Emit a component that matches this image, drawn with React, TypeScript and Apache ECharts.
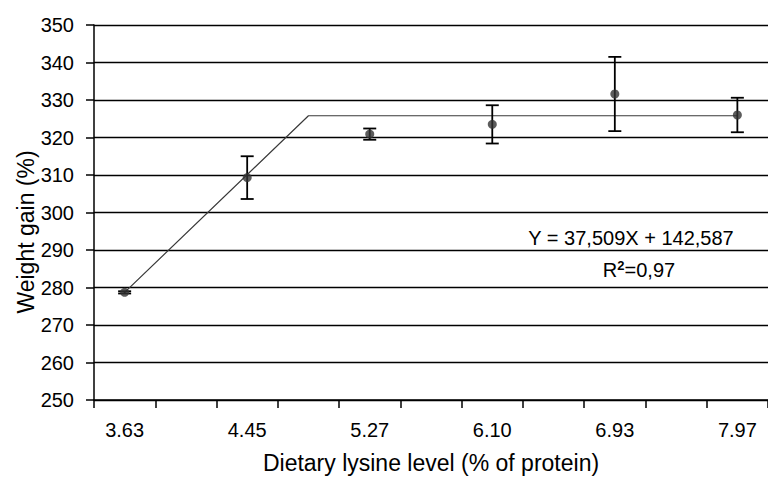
import React, { useEffect, useRef } from "react";
import * as echarts from "echarts";

// Dietary lysine levels (% of protein), one per treatment
const lysineLevels = ["3.63", "4.45", "5.27", "6.10", "6.93", "7.97"];
// Mean weight gain (%) for each level
const weightGain = [278.7, 309.3, 320.9, 323.5, 331.6, 326.0];
// Error bar half-lengths (%)
const weightGainErr = [0.3, 5.7, 1.5, 5.1, 9.9, 4.6];
// Broken-line fit: slot position on the axis and fitted value
const fitSlots = [0, 3, 10];
const fitValues = [278.7, 325.8, 325.8];
// Y axis ticks
const yMin = 250;
const yMax = 350;
const yStep = 10;

const FONT = "'Liberation Sans', Arial, sans-serif";
// Each level occupies every other slot on the axis
const slotCount = lysineLevels.length * 2 - 1;
const slots = Array.from({ length: slotCount }, (_, i) => String(i));

export default function App() {
  const ref = useRef<HTMLDivElement>(null);
  useEffect(() => {
    document.body.style.margin = "0";
    if (!ref.current) return;
    const chart = echarts.init(ref.current, undefined, { renderer: "svg" });

    const points = weightGain.map((v, i) => [i * 2, v]);
    const bars = weightGain.map((v, i) => [i * 2, v - weightGainErr[i], v + weightGainErr[i]]);
    const fit = fitSlots.map((s, i) => [s, fitValues[i]]);

    chart.setOption({
      animation: false,
      backgroundColor: "#ffffff",
      grid: { left: 94, top: 25, bottom: 73, right: -8, containLabel: false },
      xAxis: {
        type: "category",
        data: slots,
        boundaryGap: true,
        name: "Dietary lysine level (% of protein)",
        nameLocation: "middle",
        nameGap: 51,
        nameTextStyle: { fontFamily: FONT, fontSize: 23, color: "#000" },
        axisLine: { show: true, lineStyle: { color: "#000", width: 1.5 } },
        axisTick: { show: true, interval: 0, alignWithLabel: false, length: 8, lineStyle: { color: "#000", width: 1.5 } },
        axisLabel: {
          interval: 0,
          margin: 20,
          fontFamily: FONT,
          fontSize: 20,
          color: "#000",
          formatter: (_v: string, idx: number) => (idx % 2 === 0 ? lysineLevels[idx / 2] : ""),
        },
        splitLine: { show: false },
      },
      yAxis: {
        type: "value",
        min: yMin,
        max: yMax,
        interval: yStep,
        axisLine: { show: true, lineStyle: { color: "#000", width: 1.5 } },
        axisTick: { show: true, length: 8, lineStyle: { color: "#000", width: 1.5 } },
        axisLabel: { margin: 20, fontFamily: FONT, fontSize: 20, color: "#000" },
        splitLine: { show: true, lineStyle: { color: "#000", width: 1.4 } },
      },
      graphic: [
        {
          type: "text",
          x: 26,
          y: 232,
          rotation: Math.PI / 2,
          style: {
            text: "Weight gain (%)",
            fontFamily: FONT,
            fontSize: 23,
            fill: "#000",
            align: "center",
            verticalAlign: "middle",
          },
        },
        {
          type: "text",
          x: 631,
          y: 238,
          style: {
            text: "Y = 37,509X + 142,587",
            fontFamily: FONT,
            fontSize: 20,
            fill: "#000",
            align: "center",
            verticalAlign: "middle",
          },
        },
        {
          type: "text",
          x: 639,
          y: 270,
          style: {
            text: "{n|R}{s|2}{n|=0,97}",
            align: "center",
            verticalAlign: "middle",
            rich: {
              n: { fontFamily: FONT, fontSize: 20, fill: "#000", lineHeight: 22 },
              s: { fontFamily: FONT, fontSize: 13, fontWeight: "bold", fill: "#000", lineHeight: 14, verticalAlign: "top" },
            },
          },
        },
      ],
      series: [
        {
          type: "line",
          data: fit,
          symbol: "none",
          lineStyle: { color: "#3a3a3a", width: 1.2 },
          z: 2,
        },
        {
          type: "custom",
          data: bars,
          encode: { x: 0, y: [1, 2] },
          z: 3,
          renderItem: (_params: any, api: any) => {
            const x = api.value(0);
            const lo = api.coord([x, api.value(1)]);
            const hi = api.coord([x, api.value(2)]);
            const hw = 6.5;
            const style = { stroke: "#000", lineWidth: 1.8 };
            return {
              type: "group",
              children: [
                { type: "line", shape: { x1: lo[0], y1: lo[1], x2: hi[0], y2: hi[1] }, style },
                { type: "line", shape: { x1: hi[0] - hw, y1: hi[1], x2: hi[0] + hw, y2: hi[1] }, style },
                { type: "line", shape: { x1: lo[0] - hw, y1: lo[1], x2: lo[0] + hw, y2: lo[1] }, style },
              ],
            };
          },
        },
        {
          type: "scatter",
          data: points,
          symbol: "circle",
          symbolSize: 9,
          itemStyle: { color: "#333" },
          z: 4,
        },
      ],
    });
    return () => chart.dispose();
  }, []);
  return <div ref={ref} style={{ width: 768, height: 479 }} />;
}
